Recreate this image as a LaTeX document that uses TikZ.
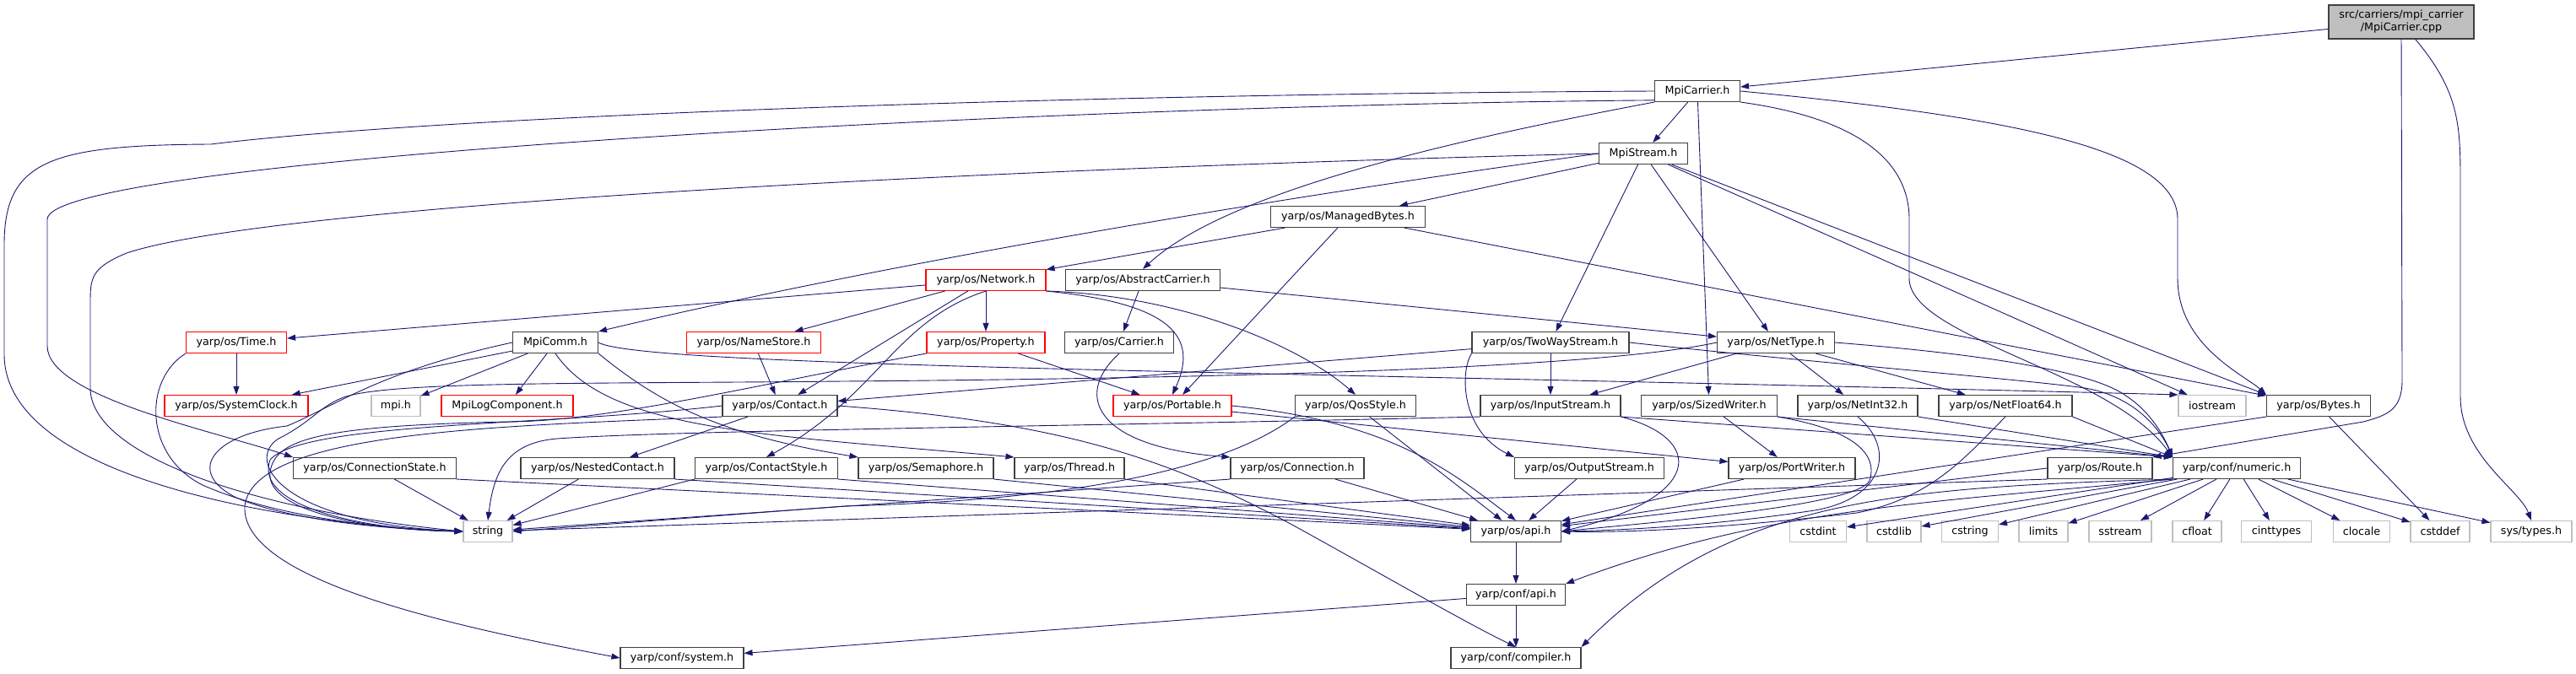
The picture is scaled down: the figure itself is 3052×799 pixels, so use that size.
\documentclass[tikz,border=0pt]{standalone}
\usepackage{fontspec}
\newfontfamily\doxfont{DejaVu Sans}
\usetikzlibrary{arrows.meta}
\definecolor{edgeblue}{HTML}{191970}
\definecolor{boxgrey}{HTML}{404040}
\definecolor{extgrey}{HTML}{BFBFBF}

\begin{document}
\begin{tikzpicture}[
    x=1pt, y=-1pt,
    file/.style={draw=boxgrey, fill=white, line width=1.1pt, minimum height=25pt,
      inner sep=0pt, font=\doxfont\fontsize{12.7}{15}\selectfont},
    trunc/.style={file, draw=red},
    ext/.style={file, draw=extgrey},
    dep/.style={draw=edgeblue, line width=0.9pt, -{Triangle[length=10pt,width=7pt]}}
  ]
  \useasboundingbox (0,0) rectangle (3052,799);

  % --- files, row by row ---
  \node[file, fill=extgrey, minimum width=172pt, minimum height=40pt, align=center] (root) at (2845,26) {src/carriers/mpi\_carrier\\/MpiCarrier.cpp};
  \node[file, minimum width=101pt] (mc) at (2011,108) {MpiCarrier.h};
  \node[file, minimum width=105pt] (ms) at (1947,182) {MpiStream.h};
  \node[file, minimum width=183pt] (mb) at (1597,257) {yarp/os/ManagedBytes.h};

  \node[trunc, minimum width=142pt] (net) at (1168,332) {yarp/os/Network.h};
  \node[file, minimum width=183pt] (ac) at (1354,332) {yarp/os/AbstractCarrier.h};

  \node[trunc, minimum width=119pt] (time) at (280,406) {yarp/os/Time.h};
  \node[file, minimum width=101pt] (comm) at (658,406) {MpiComm.h};
  \node[trunc, minimum width=159pt] (nstore) at (893,406) {yarp/os/NameStore.h};
  \node[trunc, minimum width=140pt] (prop) at (1168,406) {yarp/os/Property.h};
  \node[file, minimum width=129pt] (carr) at (1326,406) {yarp/os/Carrier.h};
  \node[file, minimum width=186pt] (tws) at (1837,406) {yarp/os/TwoWayStream.h};
  \node[file, minimum width=139pt] (ntype) at (2104,406) {yarp/os/NetType.h};

  \node[trunc, minimum width=170pt] (sclock) at (280,481) {yarp/os/SystemClock.h};
  \node[ext, minimum width=58pt] (mpih) at (469,481) {mpi.h};
  \node[trunc, minimum width=156pt] (mlog) at (601,481) {MpiLogComponent.h};
  \node[file, minimum width=136pt] (contact) at (924,481) {yarp/os/Contact.h};
  \node[trunc, minimum width=140pt] (port) at (1389,481) {yarp/os/Portable.h};
  \node[file, minimum width=143pt] (qos) at (1606,481) {yarp/os/QosStyle.h};
  \node[file, minimum width=166pt] (istr) at (1837,481) {yarp/os/InputStream.h};
  \node[file, minimum width=161pt] (sw) at (2025,481) {yarp/os/SizedWriter.h};
  \node[file, minimum width=142pt] (ni32) at (2201,481) {yarp/os/NetInt32.h};
  \node[file, minimum width=158pt] (nf64) at (2376,481) {yarp/os/NetFloat64.h};
  \node[ext, minimum width=80pt] (iostr) at (2621,481) {iostream};
  \node[file, minimum width=123pt] (bytes) at (2747,481) {yarp/os/Bytes.h};

  \node[file, minimum width=193pt] (cstate) at (444,555) {yarp/os/ConnectionState.h};
  \node[file, minimum width=182pt] (nested) at (708,555) {yarp/os/NestedContact.h};
  \node[file, minimum width=169pt] (cstyle) at (908,555) {yarp/os/ContactStyle.h};
  \node[file, minimum width=160pt] (sema) at (1097,555) {yarp/os/Semaphore.h};
  \node[file, minimum width=130pt] (thread) at (1267,555) {yarp/os/Thread.h};
  \node[file, minimum width=158pt] (conn) at (1537,555) {yarp/os/Connection.h};
  \node[file, minimum width=177pt] (ostr) at (1883,555) {yarp/os/OutputStream.h};
  \node[file, minimum width=150pt] (pw) at (2123,555) {yarp/os/PortWriter.h};
  \node[file, minimum width=124pt] (route) at (2488,555) {yarp/os/Route.h};
  \node[file, minimum width=151pt] (num) at (2650,555) {yarp/conf/numeric.h};

  \node[ext, minimum width=58pt] (str) at (578,630) {string};
  \node[file, minimum width=107pt] (osapi) at (1796,630) {yarp/os/api.h};
  \node[ext, minimum width=67pt] (cstdint) at (2154,630) {cstdint};
  \node[ext, minimum width=64pt] (cstdlib) at (2244,630) {cstdlib};
  \node[ext, minimum width=67pt] (cstring) at (2334,630) {cstring};
  \node[ext, minimum width=58pt] (limits) at (2421,630) {limits};
  \node[ext, minimum width=74pt] (sstream) at (2512,630) {sstream};
  \node[ext, minimum width=58pt] (cfloat) at (2603,630) {cfloat};
  \node[ext, minimum width=83pt] (cinttypes) at (2697,630) {cinttypes};
  \node[ext, minimum width=67pt] (clocale) at (2798,630) {clocale};
  \node[ext, minimum width=70pt] (cstddef) at (2891,630) {cstddef};
  \node[ext, minimum width=96pt] (systypes) at (2999,630) {sys/types.h};

  \node[file, minimum width=117pt] (capi) at (1796,705) {yarp/conf/api.h};
  \node[file, minimum width=146pt] (sys) at (808,780) {yarp/conf/system.h};
  \node[file, minimum width=154pt] (comp) at (1796,780) {yarp/conf/compiler.h};

  % --- MpiCarrier.cpp ---
  \draw[dep] (root) -- (mc);
  \draw[dep] (root.south) -- (2846,450) .. controls (2846,485) and (2830,492) .. (2800,500) -- (route.north east);
  \draw[dep] (root.-51) .. controls (2915,110) and (2915,150) .. (2915,220) -- (2915,470) .. controls (2915,540) and (2985,580) .. (systypes.north);

  % --- MpiCarrier.h ---
  \draw[dep] (mc) -- (ms);
  \draw[dep] (mc) -- (sw);
  \draw[dep] (mc.south west) .. controls (1700,170) and (1450,230) .. (ac.north);
  \draw[dep] (mc.west) .. controls (1200,112) and (500,140) .. (250,171) .. controls (60,172) and (5,190) .. (5,290) -- (5,420) .. controls (5,570) and (350,622) .. (str.west);
  \draw[dep] (mc.192) .. controls (1200,125) and (56,190) .. (56,260) -- (56,410) .. controls (56,470) and (250,510) .. (cstate.north west);
  \draw[dep] (mc.east) .. controls (2400,140) and (2580,180) .. (2580,260) -- (2580,330) .. controls (2580,410) and (2660,445) .. (bytes.north west);
  \draw[dep] (mc.south east) .. controls (2200,140) and (2262,190) .. (2262,260) -- (2262,330) .. controls (2262,400) and (2500,440) .. (num.north west);

  % --- MpiStream.h ---
  \draw[dep] (ms) -- (ntype);
  \draw[dep] (ms) -- (tws);
  \draw[dep] (ms) -- (mb);
  \draw[dep] (ms) -- (iostr);
  \draw[dep] (ms) -- (bytes.north west);
  \draw[dep] (ms.west) .. controls (1600,222) and (1100,300) .. (comm.north east);
  \draw[dep] (ms.west) .. controls (1000,205) and (300,250) .. (150,300) .. controls (107,318) and (107,330) .. (107,360) -- (107,460) .. controls (107,540) and (300,605) .. (str.west);

  % --- ManagedBytes.h ---
  \draw[dep] (mb) -- (net);
  \draw[dep] (mb) -- (port);
  \draw[dep] (mb) -- (bytes);

  % --- Network.h ---
  \draw[dep] (net) -- (time);
  \draw[dep] (net) -- (nstore);
  \draw[dep] (net) -- (contact);
  \draw[dep] (net) -- (prop);
  \draw[dep] (net.south) .. controls (1060,380) and (1040,470) .. (cstyle.north);
  \draw[dep] (net.south east) .. controls (1390,360) and (1420,400) .. (port.north);
  \draw[dep] (net.south east) .. controls (1400,350) and (1540,410) .. (qos.north);
  \draw[dep] (ac) -- (carr);
  \draw[dep] (ac) -- (ntype);

  % --- Time.h, MpiComm.h ---
  \draw[dep] (time) -- (sclock);
  \draw[dep] (time.south west) .. controls (170,450) and (170,540) .. (240,575) .. controls (330,615) and (470,628) .. (str.west);
  \draw[dep] (comm) -- (sclock);
  \draw[dep] (comm) -- (mpih);
  \draw[dep] (comm) -- (mlog);
  \draw[dep] (comm.south east) .. controls (780,477) and (850,515) .. (sema.north west);
  \draw[dep] (comm.south) .. controls (720,510) and (900,515) .. (thread.north west);
  \draw[dep] (comm.east) .. controls (760,435) and (1500,440) .. (iostr.north west);
  \draw[dep] (comm.west) .. controls (450,440) and (400,480) .. (340,505) .. controls (250,515) and (220,560) .. (280,590) .. controls (350,620) and (480,628) .. (str.west);

  % --- NameStore.h, Property.h, Carrier.h ---
  \draw[dep] (nstore) -- (contact);
  \draw[dep] (prop) -- (port);
  \draw[dep] (prop.south west) .. controls (900,455) and (720,500) .. (600,500) .. controls (380,505) and (325,520) .. (320,560) .. controls (315,605) and (430,628) .. (str.west);
  \draw[dep] (carr.south) .. controls (1270,470) and (1300,530) .. (conn.north west);

  % --- TwoWayStream.h, NetType.h ---
  \draw[dep] (tws) -- (istr);
  \draw[dep] (tws) -- (contact);
  \draw[dep] (tws.south west) .. controls (1730,440) and (1730,510) .. (ostr.north west);
  \draw[dep] (tws.east) .. controls (2150,430) and (2400,450) .. (2470,460) .. controls (2530,470) and (2560,510) .. (num.north west);
  \draw[dep] (ntype) -- (istr);
  \draw[dep] (ntype) -- (ni32);
  \draw[dep] (ntype) -- (nf64);
  \draw[dep] (ntype.east) .. controls (2350,420) and (2480,440) .. (2520,470) .. controls (2550,490) and (2565,520) .. (num.north west);
  \draw[dep] (ntype.west) .. controls (1900,435) and (1500,448) .. (1000,452) .. controls (700,455) and (470,452) .. (410,470) .. controls (380,480) and (370,500) .. (330,520) .. controls (290,545) and (330,620) .. (str.west);

  % --- Contact.h, Portable.h, QosStyle.h ---
  \draw[dep] (contact) -- (nested);
  \draw[dep] (contact.west) .. controls (650,505) and (360,500) .. (320,545) .. controls (300,600) and (430,628) .. (str.west);
  \draw[dep] (contact.south west) .. controls (600,505) and (300,510) .. (290,600) .. controls (285,690) and (550,745) .. (sys.west);
  \draw[dep] (contact.east) .. controls (1250,500) and (1380,540) .. (1540,627) .. controls (1650,688) and (1740,740) .. (comp.north);
  \draw[dep] (port) -- (pw);
  \draw[dep] (port.east) .. controls (1650,500) and (1720,560) .. (osapi.north);
  \draw[dep] (qos) -- (osapi);
  \draw[dep] (qos.south west) .. controls (1460,550) and (1300,592) .. (1000,600) -- (str.east);

  % --- InputStream.h, SizedWriter.h, NetInt32.h, NetFloat64.h ---
  \draw[dep] (istr.south east) .. controls (2020,520) and (2020,590) .. (osapi.east);
  \draw[dep] (istr.south east) -- (num.north west);
  \draw[dep] (istr.south west) .. controls (1300,505) and (800,510) .. (660,520) .. controls (600,525) and (585,560) .. (str.north);
  \draw[dep] (sw) -- (pw);
  \draw[dep] (sw.south east) .. controls (2200,510) and (2225,540) .. (2215,570) .. controls (2200,600) and (1950,620) .. (osapi.east);
  \draw[dep] (sw.south east) -- (num.north west);
  \draw[dep] (ni32.south) .. controls (2245,530) and (2235,590) .. (2150,605) .. controls (2050,620) and (1950,628) .. (osapi.east);
  \draw[dep] (ni32.south east) -- (num.north west);
  \draw[dep] (nf64.south) .. controls (2330,540) and (2290,590) .. (2200,608) .. controls (2080,622) and (1950,632) .. (osapi.east);
  \draw[dep] (nf64.south east) -- (num.north west);

  % --- Bytes.h, Route.h ---
  \draw[dep] (bytes.south west) -- (osapi);
  \draw[dep] (bytes) -- (cstddef);
  \draw[dep] (route.south west) -- (str);
  \draw[dep] (route.west) -- (osapi);

  % --- fourth row into string and yarp/os/api.h ---
  \draw[dep] (cstate) -- (str);
  \draw[dep] (cstate.south east) -- (osapi);
  \draw[dep] (nested) -- (str);
  \draw[dep] (nested.south east) -- (osapi);
  \draw[dep] (cstyle.south west) -- (str);
  \draw[dep] (cstyle.south east) -- (osapi);
  \draw[dep] (sema.south east) -- (osapi);
  \draw[dep] (thread.south east) -- (osapi);
  \draw[dep] (conn) -- (osapi);
  \draw[dep] (conn.south west) -- (str);
  \draw[dep] (ostr) -- (osapi);
  \draw[dep] (pw) -- (osapi);

  % --- yarp/conf/numeric.h ---
  \foreach \tgt in {cstdint,cstdlib,cstring,limits,sstream,cfloat,cinttypes,clocale,cstddef,systypes}
    \draw[dep] (num) -- (\tgt);
  \draw[dep] (num.south west) .. controls (2300,595) and (2100,600) .. (capi.north east);
  \draw[dep] (num.south west) .. controls (2250,578) and (2050,590) .. (comp.north east);

  % --- api headers ---
  \draw[dep] (osapi) -- (capi);
  \draw[dep] (capi) -- (comp);
  \draw[dep] (capi) -- (sys);
\end{tikzpicture}
\end{document}
